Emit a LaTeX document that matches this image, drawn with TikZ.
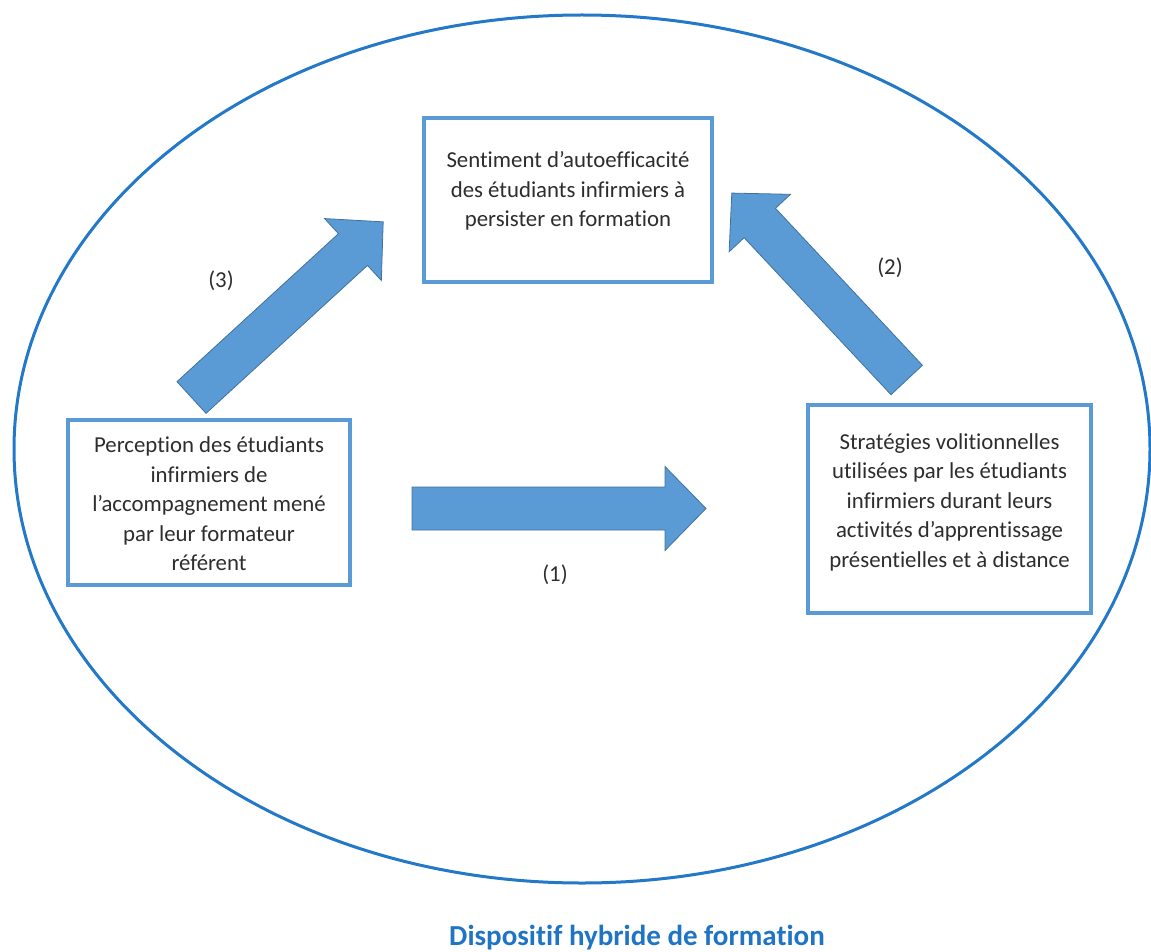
\documentclass[tikz,border=0pt]{standalone}
\usepackage{fontspec}
\setmainfont{Carlito}[Ligatures={NoCommon}]
\definecolor{boxblue}{RGB}{91,155,213}
\definecolor{ellblue}{RGB}{35,120,200}
\definecolor{arrowedge}{RGB}{65,113,156}
\definecolor{txtgray}{RGB}{45,45,45}
\definecolor{titleblue}{RGB}{31,117,196}
\tikzset{
 boxnode/.style={draw=boxblue, line width=3.5pt, fill=white, inner sep=0pt},
 boxtext/.style={text=txtgray, align=center, font=\fontsize{22.8}{29.5}\selectfont, inner sep=0pt},
 lbl/.style={text=txtgray, font=\fontsize{22.8}{26}\selectfont, inner sep=0pt},
 blockarrow/.style={fill=boxblue, draw=arrowedge, line width=0.8pt, line join=miter},
}
\newcommand\blockarr[3]{\begin{scope}[shift={(#1)}, rotate=#2]
 \draw[blockarrow] (0,-21.5) -- ({#3-41},-21.5) -- ({#3-41},-42) -- (#3,0) -- ({#3-41},42) -- ({#3-41},21.5) -- (0,21.5) -- cycle;
 \end{scope}}
\begin{document}
\begin{tikzpicture}[x=1pt,y=-1pt]
\useasboundingbox (0,0) rectangle (1151,952);
% outer ellipse
\draw[ellblue, line width=3pt] (582,449) ellipse [x radius=568, y radius=434];
% boxes
\node[boxnode, minimum width=288pt, minimum height=164pt] (top) at (568,200) {};
\node[boxtext] (toptxt) at (568,191) {Sentiment d’autoefficacité\\des étudiants infirmiers à\\persister en formation};
\node[boxnode, minimum width=282pt, minimum height=165pt] (left) at (209,502.5) {};
\node[boxtext] (lefttxt) at (209,504) {Perception des étudiants\\infirmiers de\\l’accompagnement mené\\par leur formateur\\référent};
\node[boxnode, minimum width=283pt, minimum height=208pt] (right) at (949.5,509) {};
\node[boxtext] (righttxt) at (949.5,502) {Stratégies volitionnelles\\utilisées par les étudiants\\infirmiers durant leurs\\activités d’apprentissage\\présentielles et à distance};
% block arrows
\coordinate (a1) at (412,508.5);
\coordinate (a2) at (906.7,380);
\coordinate (a3) at (191.5,397.5);
\blockarr{a1}{0}{294}
\blockarr{a2}{133.1}{256}
\blockarr{a3}{42.5}{260}
% labels
\node[lbl] (l1) at (555,575) {(1)};
\node[lbl] (l2) at (890,268) {(2)};
\node[lbl] (l3) at (221,281) {(3)};
% title
\node[text=titleblue, font=\fontsize{29}{32}\selectfont\bfseries, inner sep=0pt] (title) at (637,938) {Dispositif hybride de formation};
\end{tikzpicture}
\end{document}
